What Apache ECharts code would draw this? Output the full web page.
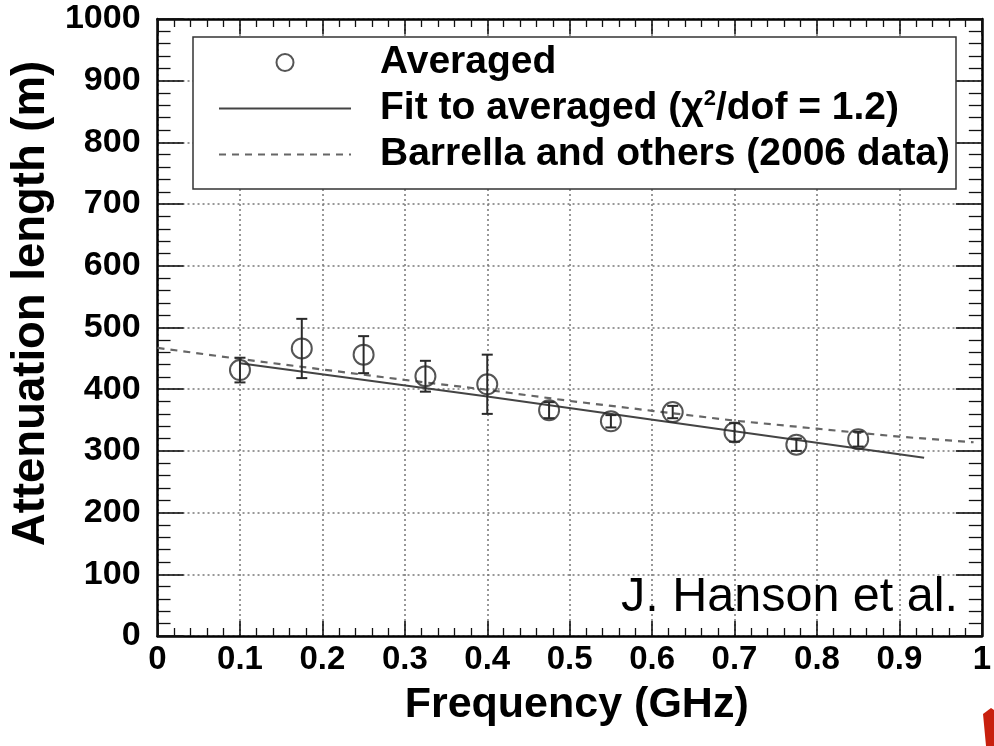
<!DOCTYPE html>
<html>
<head>
<meta charset="utf-8">
<script src="https://cdn.jsdelivr.net/npm/echarts@6/dist/echarts.min.js"></script>
<style>
  html, body { margin: 0; padding: 0; background: #fff; }
  #chart { width: 994px; height: 746px; }
</style>
</head>
<body>
<div id="chart"></div>
<script>
// Averaged attenuation-length measurements (m) with symmetric uncertainties
const freqGHz   = [0.1, 0.175, 0.25, 0.325, 0.4, 0.475, 0.55, 0.625, 0.7, 0.775, 0.85];
const attenAvg  = [431, 466, 456, 421, 408, 366, 348, 363, 330, 310, 319];
const attenErr  = [20, 48, 30, 25, 48, 13, 10, 10, 15, 10, 12];

// Fit to the averaged points
const fitFreq   = [0.1, 0.4, 0.7, 0.93];
const fitAtten  = [442, 388, 332, 289];

// Barrella and others, 2006 data
const barrellaFreq  = [0, 0.1, 0.2, 0.3, 0.4, 0.5, 0.6, 0.7, 0.8, 0.9, 0.99];
const barrellaAtten = [467, 449, 432, 415, 399, 381, 365, 349, 336, 323, 314];

// Axis ranges and ticks
const xMin = 0, xMax = 1, xStep = 0.1;
const yMin = 0, yMax = 1000, yStep = 100;

const NAME_AVG = 'Averaged';
const NAME_FIT = 'Fit to averaged';
const NAME_BAR = 'Barrella and others (2006 data)';

const FONT = '"Liberation Sans", Arial, Helvetica, sans-serif';
const INK = '#2a2a2a';

const pts = freqGHz.map((f, i) => [f, attenAvg[i]]);
const bars = freqGHz.map((f, i) => [f, attenAvg[i] - attenErr[i], attenAvg[i] + attenErr[i]]);
const fitPts = fitFreq.map((f, i) => [f, fitAtten[i]]);
const barPts = barrellaFreq.map((f, i) => [f, barrellaAtten[i]]);

function frameAxis(extra) {
  return Object.assign({
    type: 'value',
    axisLine: { show: true, onZero: false, lineStyle: { color: '#000', width: 2.5 } },
    axisTick: { show: true, inside: true, lineStyle: { color: '#111', width: 1.6 } },
    minorTick: { show: true, splitNumber: 5, lineStyle: { color: '#111', width: 1.3 } },
    splitLine: { show: false },
    axisLabel: { show: false }
  }, extra);
}

const gridLine = { show: true, lineStyle: { color: '#777', width: 1.5, type: [2, 3] } };
const xTick = { show: true, inside: true, length: 15, lineStyle: { color: '#111', width: 1.6 } };
const xMinor = { show: true, splitNumber: 5, length: 8, lineStyle: { color: '#111', width: 1.3 } };
const yTick = { show: true, inside: true, length: 26, lineStyle: { color: '#111', width: 1.6 } };
const yMinor = { show: true, splitNumber: 5, length: 13, lineStyle: { color: '#111', width: 1.3 } };

const chart = echarts.init(document.getElementById('chart'), null, { renderer: 'canvas' });

chart.setOption({
  backgroundColor: '#fff',
  animation: false,
  grid: { left: 155, right: 9, top: 19, bottom: 110 },
  xAxis: [
    frameAxis({
      position: 'bottom', min: xMin, max: xMax, interval: xStep,
      axisTick: xTick, minorTick: xMinor,
      splitLine: gridLine,
      axisLabel: {
        show: true, margin: 7, color: '#000', fontFamily: FONT, fontWeight: 'bold', fontSize: 33,
        formatter: v => String(+v.toFixed(1))
      },
      name: 'Frequency (GHz)', nameLocation: 'middle', nameGap: 48,
      nameTextStyle: { color: '#000', fontFamily: FONT, fontWeight: 'bold', fontSize: 43, padding: [0, 0, 0, 14] }
    }),
    frameAxis({ position: 'top', min: xMin, max: xMax, interval: xStep, axisTick: xTick, minorTick: xMinor })
  ],
  yAxis: [
    frameAxis({
      position: 'left', min: yMin, max: yMax, interval: yStep,
      axisTick: yTick, minorTick: yMinor,
      splitLine: gridLine,
      axisLabel: {
        show: true, margin: 17, color: '#000', fontFamily: FONT, fontWeight: 'bold', fontSize: 34,
        formatter: v => String(Math.round(v))
      },
      name: 'Attenuation length (m)', nameLocation: 'middle', nameGap: 103,
      nameTextStyle: { color: '#000', fontFamily: FONT, fontWeight: 'bold', fontSize: 45.5, padding: [0, 0, 0, 48] }
    }),
    frameAxis({ position: 'right', min: yMin, max: yMax, interval: yStep, axisTick: yTick, minorTick: yMinor })
  ],
  legend: {
    data: [
      { name: NAME_AVG },
      { name: NAME_FIT, itemStyle: { opacity: 0 } },
      { name: NAME_BAR, itemStyle: { opacity: 0 } }
    ],
    orient: 'vertical',
    left: 193, top: 37,
    padding: [5, 4, 14, 25],
    itemWidth: 132, itemHeight: 17, itemGap: 5,
    backgroundColor: '#fff', borderColor: '#333', borderWidth: 1.5,
    selectedMode: false,
    formatter: name => name === NAME_FIT
      ? 'Fit to averaged ({chi|χ}{sup|2}/dof = 1.2)'
      : name,
    textStyle: {
      color: '#000', fontFamily: FONT, fontWeight: 'bold', fontSize: 39, lineHeight: 41,
      width: 572, padding: [0, 0, 0, 24],
      rich: {
        chi: { color: '#000', fontFamily: FONT, fontWeight: 'bold', fontSize: 39, lineHeight: 41 },
        sup: { color: '#000', fontFamily: FONT, fontWeight: 'bold', fontSize: 22, lineHeight: 22, verticalAlign: 'top' }
      }
    }
  },
  graphic: [
    {
      type: 'text', x: 958, y: 598, z: 10,
      style: { text: 'J. Hanson et al.', fill: '#000', fontFamily: FONT, fontSize: 48.5, align: 'right', verticalAlign: 'middle' }
    },
    {
      type: 'polygon', z: 10,
      shape: { points: [[983, 714], [991, 708], [994, 710], [994, 746], [986, 746]] },
      style: { fill: '#c8200e' }
    }
  ],
  series: [
    {
      name: NAME_BAR, type: 'line', data: barPts, symbol: 'none', z: 3,
      lineStyle: { color: '#666', width: 2.2, type: [7, 6] }, itemStyle: { color: '#666' }
    },
    {
      name: NAME_FIT, type: 'line', data: fitPts, symbol: 'none', z: 4,
      lineStyle: { color: '#444', width: 2 }, itemStyle: { color: '#444' }
    },
    {
      name: 'Averaged uncertainty', type: 'custom', z: 5,
      data: bars,
      encode: { x: 0, y: [1, 2] },
      renderItem: (params, api) => {
        const x = api.value(0);
        const lo = api.coord([x, api.value(1)]);
        const hi = api.coord([x, api.value(2)]);
        const cap = 5.5;
        const st = { stroke: INK, lineWidth: 2 };
        return {
          type: 'group',
          children: [
            { type: 'line', shape: { x1: lo[0], y1: lo[1], x2: hi[0], y2: hi[1] }, style: st },
            { type: 'line', shape: { x1: hi[0] - cap, y1: hi[1], x2: hi[0] + cap, y2: hi[1] }, style: st },
            { type: 'line', shape: { x1: lo[0] - cap, y1: lo[1], x2: lo[0] + cap, y2: lo[1] }, style: st }
          ]
        };
      }
    },
    {
      name: NAME_AVG, type: 'scatter', data: pts, symbol: 'circle', symbolSize: 20, z: 6,
      itemStyle: { color: 'rgba(255,255,255,0)', borderColor: INK, borderWidth: 2 }
    }
  ]
});
</script>
</body>
</html>
